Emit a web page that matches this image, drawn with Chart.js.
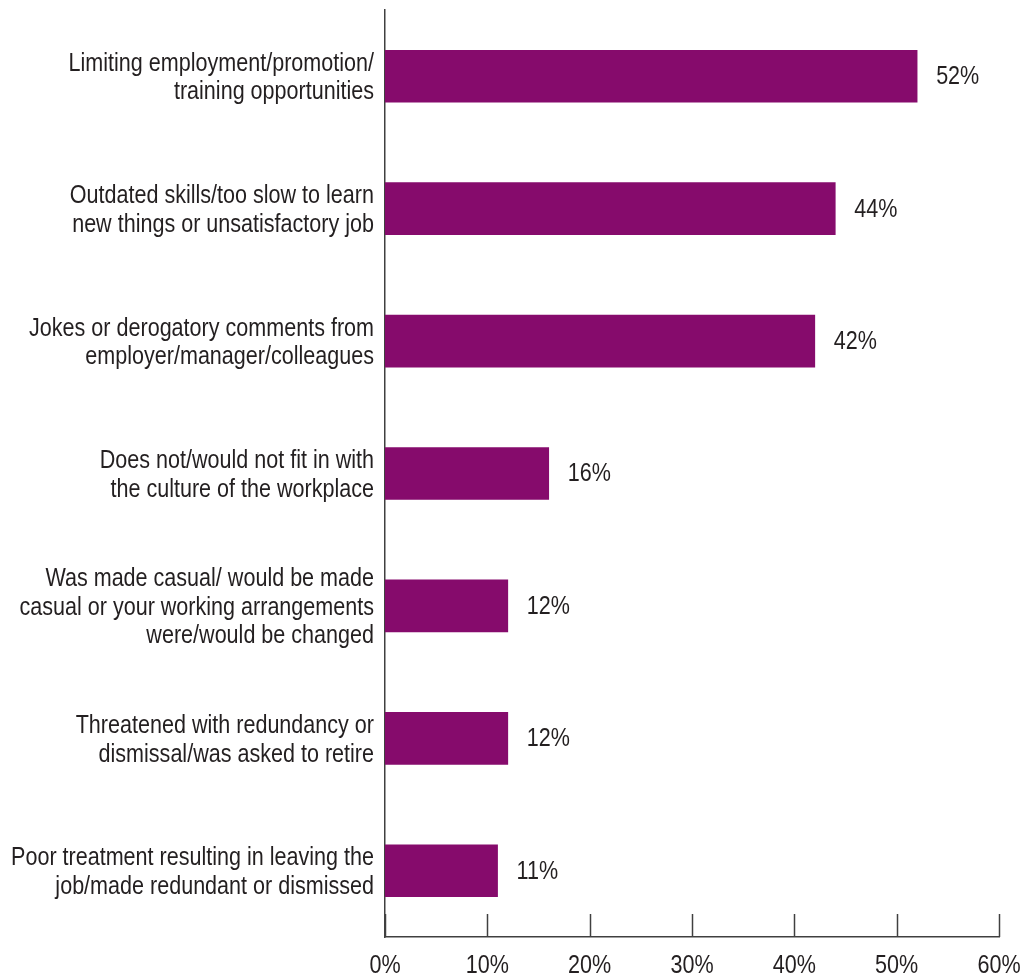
<!DOCTYPE html>
<html lang="en">
<head>
  <meta charset="UTF-8" />
  <title>Experiences of age discrimination</title>
  <script src="https://cdn.jsdelivr.net/npm/chart.js"></script>
  <style>
    html, body {
      margin: 0;
      padding: 0;
      background: #ffffff;
    }
    #wrap {
      width: 1023px;
      height: 979px;
    }
  </style>
</head>
<body>

<div id="wrap">
  <canvas id="barChart" width="1023" height="979"></canvas>
</div>

<script>
  // categories, split into the lines shown beside each bar
  const categories = [
    ['Limiting employment/promotion/', 'training opportunities'],
    ['Outdated skills/too slow to learn', 'new things or unsatisfactory job'],
    ['Jokes or derogatory comments from', 'employer/manager/colleagues'],
    ['Does not/would not fit in with', 'the culture of the workplace'],
    ['Was made casual/ would be made', 'casual or your working arrangements', 'were/would be changed'],
    ['Threatened with redundancy or', 'dismissal/was asked to retire'],
    ['Poor treatment resulting in leaving the', 'job/made redundant or dismissed']
  ];
  const percents = [52, 44, 42, 16, 12, 12, 11];
  const xTicks = [0, 10, 20, 30, 40, 50, 60];

  const FONT = "'Liberation Sans', Arial, sans-serif";
  const FONT_SIZE = 25;
  const SQUEEZE = 0.862;   // horizontal squeeze to get a condensed face
  const LINE_GAP = 28.5;
  const INK = '#231f20';
  const AXIS = '#404040';

  // condensed text: scale x, draw, restore
  function squeezedText(ctx, text, x, y, align) {
    ctx.save();
    ctx.textAlign = align;
    ctx.textBaseline = 'alphabetic';
    ctx.scale(SQUEEZE, 1);
    ctx.fillText(text, x / SQUEEZE, y);
    ctx.restore();
  }

  // all text and the short inner tick marks
  const chartText = {
    id: 'chartText',
    afterDraw(chart) {
      const ctx = chart.ctx;
      const xs = chart.scales.x;
      const ys = chart.scales.y;
      const area = chart.chartArea;
      const capHalf = FONT_SIZE * 0.716 / 2;

      ctx.save();
      ctx.font = FONT_SIZE + 'px ' + FONT;
      ctx.fillStyle = INK;

      // category labels, right aligned against the axis
      categories.forEach((lines, i) => {
        const cy = ys.getPixelForTick(i);
        const first = cy - (lines.length - 1) * LINE_GAP / 2;
        lines.forEach((line, k) => {
          squeezedText(ctx, line, area.left - 11, first + k * LINE_GAP + capHalf, 'right');
        });
      });

      // bar values
      const meta = chart.getDatasetMeta(0);
      meta.data.forEach((bar, i) => {
        squeezedText(ctx, percents[i] + '%', bar.x + 19, bar.y - 1 + capHalf, 'left');
      });

      // x tick labels and tick marks
      ctx.strokeStyle = AXIS;
      ctx.lineWidth = 1.5;
      xTicks.forEach(v => {
        const px = xs.getPixelForValue(v);
        squeezedText(ctx, v + '%', px, area.bottom + 36, 'center');
        const lx = Math.round(px) + 0.5;
        ctx.beginPath();
        ctx.moveTo(lx, area.bottom);
        ctx.lineTo(lx, area.bottom - 23);
        ctx.stroke();
      });
      ctx.restore();
    }
  };

  new Chart(document.getElementById('barChart'), {
    type: 'bar',
    data: {
      labels: categories,
      datasets: [{
        data: percents,
        backgroundColor: '#860b6c',
        barThickness: 52
      }]
    },
    options: {
      indexAxis: 'y',
      responsive: false,
      animation: false,
      layout: { padding: { top: 10, right: 24, left: 0, bottom: 0 } },
      plugins: {
        legend: { display: false },
        tooltip: { enabled: false }
      },
      scales: {
        x: {
          min: 0,
          max: 60,
          afterBuildTicks(scale) {
            scale.ticks = xTicks.map(v => ({ value: v }));
          },
          afterFit(scale) {
            scale.height = 42;
            scale.paddingLeft = 0;
            scale.paddingRight = 0;
          },
          grid: { display: false, drawTicks: false },
          border: { display: true, color: AXIS, width: 1.5 },
          ticks: { display: false }
        },
        y: {
          afterFit(scale) {
            scale.width = 385;
            scale.paddingTop = 0;
            scale.paddingBottom = 0;
          },
          grid: { display: false, drawTicks: false },
          border: { display: true, color: AXIS, width: 1.5 },
          ticks: { display: false }
        }
      }
    },
    plugins: [chartText]
  });
</script>

</body>
</html>
